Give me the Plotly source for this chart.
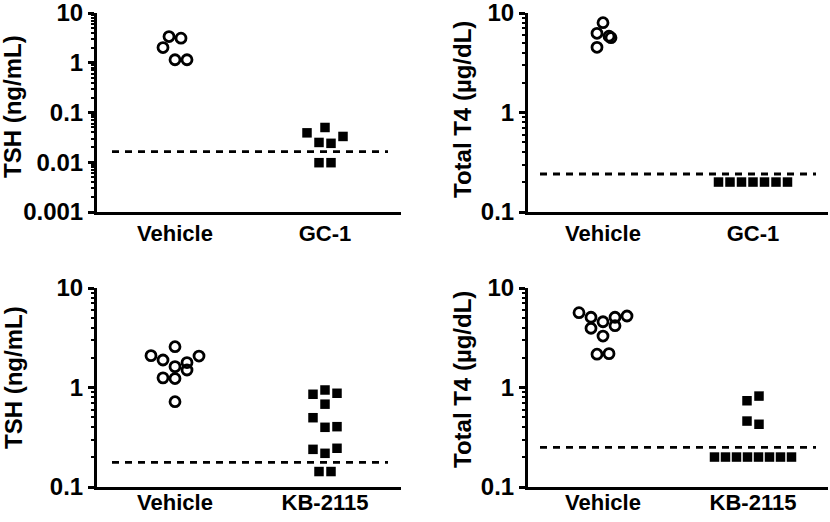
import plotly.graph_objects as go

# ---------------- data ----------------
categories_gc1 = ["Vehicle", "GC-1"]
categories_kb = ["Vehicle", "KB-2115"]

# Panel A: TSH, GC-1 study
tsh_gc1_vehicle = [3.36, 3.12, 2.02, 1.15, 1.15]
tsh_gc1_vehicle_jit = [-6, 6, -12, 0, 12]          # swarm offsets (px)
tsh_gc1_treated = [0.039, 0.050, 0.025, 0.024, 0.033, 0.0098, 0.0098]
tsh_gc1_treated_jit = [-18, 0, -6, 6, 18, -6, 6]
tsh_gc1_lod = 0.0163

# Panel B: Total T4, GC-1 study
t4_gc1_vehicle = [7.99, 6.25, 5.85, 5.65, 4.52]
t4_gc1_vehicle_jit = [0, -6, 6, 8, -6]
t4_gc1_treated = [0.2, 0.2, 0.2, 0.2, 0.2, 0.2, 0.2]
t4_gc1_treated_jit = [-34.5, -23, -11.5, 0, 11.5, 23, 34.5]
t4_gc1_lod = 0.241

# Panel C: TSH, KB-2115 study
tsh_kb_vehicle = [2.09, 1.89, 2.57, 1.62, 1.50, 1.78, 2.07, 1.25, 1.23, 0.72]
tsh_kb_vehicle_jit = [-24, -12, 0, 0, 12, 12, 24, -12, 0, 0]
tsh_kb_treated = [0.855, 0.944, 0.875, 0.68, 0.497, 0.398, 0.404, 0.239, 0.218, 0.245, 0.143, 0.143]
tsh_kb_treated_jit = [-12, 0, 12, 0, -12, 0, 12, -12, 0, 12, -6, 6]
tsh_kb_lod = 0.177

# Panel D: Total T4, KB-2115 study
t4_kb_vehicle = [5.65, 5.08, 3.94, 4.58, 5.08, 4.18, 5.23, 3.29, 2.16, 2.19]
t4_kb_vehicle_jit = [-24, -12, -12, 0, 12, 12, 24, 0, -6, 6]
t4_kb_treated = [0.736, 0.82, 0.46, 0.427, 0.2, 0.2, 0.2, 0.2, 0.2, 0.2, 0.2, 0.2]
t4_kb_treated_jit = [-6, 6, -6, 6, -38.5, -27.5, -16.5, -5.5, 5.5, 16.5, 27.5, 38.5]
t4_kb_lod = 0.25

tsh_label = "TSH (ng/mL)"
t4_label = "Total T4 (µg/dL)"

# ---------------- styling / layout ----------------
W, H = 830, 522
PX_PER_CAT = 150.0
FONT = "Liberation Sans, Arial, sans-serif"
LW = 3

panels = [
    (tsh_gc1_vehicle, tsh_gc1_vehicle_jit, tsh_gc1_treated, tsh_gc1_treated_jit, tsh_gc1_lod,
     categories_gc1, tsh_label, [-3, 1], [0.001, 0.01, 0.1, 1, 10], (97, 401), (13, 212), 13, 107, 0),
    (t4_gc1_vehicle, t4_gc1_vehicle_jit, t4_gc1_treated, t4_gc1_treated_jit, t4_gc1_lod,
     categories_gc1, t4_label, [-1, 1], [0.1, 1, 10], (528, 828), (13, 212), 462, 110, 0),
    (tsh_kb_vehicle, tsh_kb_vehicle_jit, tsh_kb_treated, tsh_kb_treated_jit, tsh_kb_lod,
     categories_kb, tsh_label, [-1, 1], [0.1, 1, 10], (97, 401), (288, 487), 13, 378, -6),
    (t4_kb_vehicle, t4_kb_vehicle_jit, t4_kb_treated, t4_kb_treated_jit, t4_kb_lod,
     categories_kb, t4_label, [-1, 1], [0.1, 1, 10], (528, 828), (288, 487), 462, 380, -6),
]


def tick_text(v):
    return ("%g" % v)


fig = go.Figure()
layout = dict(
    width=W, height=H, margin=dict(l=0, r=0, t=0, b=0, autoexpand=False),
    paper_bgcolor="white", plot_bgcolor="white", showlegend=False,
    hovermode=False,
    annotations=[],
)

for i, (veh, vj, trt, tj, lod, cats, ylab, yr, yt, dx, dy, tx, ty, xstand) in enumerate(panels):
    n = "" if i == 0 else str(i + 1)
    xa, ya = "x" + n, "y" + n
    cat_centre = dx[0] + 78 if i % 2 == 0 else dx[0] + 75
    x_left = (dx[0] - cat_centre) / PX_PER_CAT
    x_right = (dx[1] - cat_centre) / PX_PER_CAT

    fig.add_trace(go.Scatter(
        x=[0 + j / PX_PER_CAT for j in vj], y=veh, mode="markers", xaxis=xa, yaxis=ya,
        marker=dict(symbol="circle-open", size=10, color="black", line=dict(width=2.8, color="black")),
        cliponaxis=False,
    ))
    fig.add_trace(go.Scatter(
        x=[1 + j / PX_PER_CAT for j in tj], y=trt, mode="markers", xaxis=xa, yaxis=ya,
        marker=dict(symbol="square", size=9.5, color="black", line=dict(width=0)),
        cliponaxis=False,
    ))
    fig.add_trace(go.Scatter(
        x=[-0.42, 1.42], y=[lod, lod], mode="lines", xaxis=xa, yaxis=ya,
        line=dict(color="black", width=2.8, dash="7px,6px"),
    ))

    minor_vals = []
    for e in range(yr[0], yr[1]):
        for m in range(2, 10):
            minor_vals.append(m * 10 ** e)

    layout["xaxis" + n] = dict(
        domain=[dx[0] / W, dx[1] / W], anchor=ya, range=[x_left, x_right],
        automargin=False, ticklabeloverflow="allow",
        showline=True, linecolor="black", linewidth=LW, showgrid=False, zeroline=False,
        tickmode="array", tickvals=[0, 1], ticktext=cats,
        ticks="", ticklabelstandoff=xstand,
        tickfont=dict(family=FONT, size=22, color="black", weight="bold"),
        fixedrange=True,
    )
    layout["yaxis" + n] = dict(
        domain=[1 - dy[1] / H, 1 - dy[0] / H], anchor=xa, type="log", range=yr,
        automargin=False, ticklabeloverflow="allow",
        showline=True, linecolor="black", linewidth=LW, showgrid=False, zeroline=False,
        tickmode="array", tickvals=yt, ticktext=[tick_text(v) for v in yt],
        ticks="outside", ticklen=6, tickwidth=LW, tickcolor="black",
        minor=dict(tickmode="array", tickvals=minor_vals, ticks="outside", ticklen=3,
                   tickwidth=2, tickcolor="black", showgrid=False),
        tickfont=dict(family=FONT, size=24, color="black", weight="bold"),
        fixedrange=True,
    )
    layout["annotations"].append(dict(
        text=ylab, xref="paper", yref="paper", x=tx / W, y=1 - ty / H,
        xanchor="center", yanchor="middle", textangle=-90, showarrow=False,
        font=dict(family=FONT, size=24, color="black", weight="bold"),
    ))

fig.update_layout(**layout)
fig.write_html("out.html", config={"displayModeBar": False},
               post_script="document.body.style.margin='0px';")
